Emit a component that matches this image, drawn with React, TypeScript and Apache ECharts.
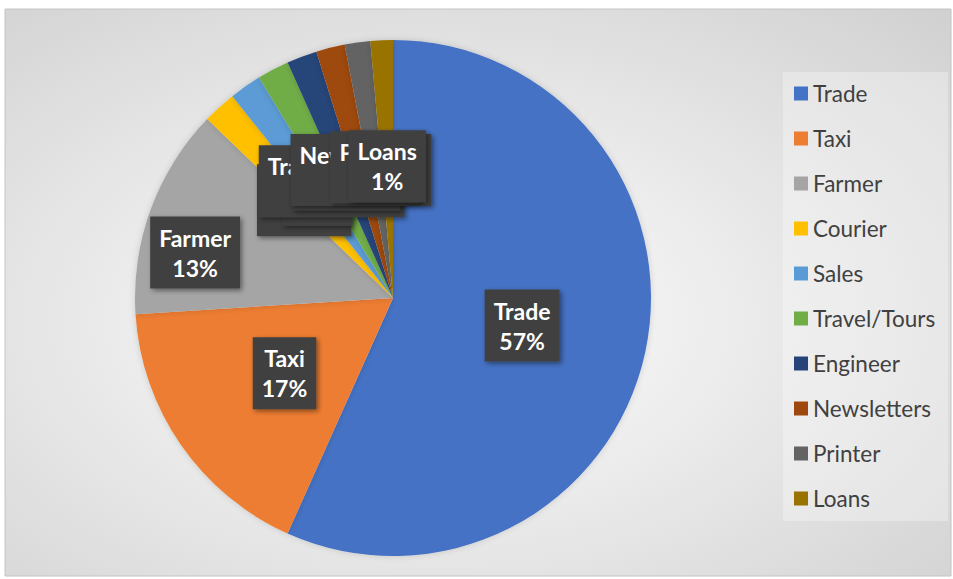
import React, { useEffect, useRef } from "react";
import * as echarts from "echarts";

const categories = [
  "Trade",
  "Taxi",
  "Farmer",
  "Courier",
  "Sales",
  "Travel/Tours",
  "Engineer",
  "Newsletters",
  "Printer",
  "Loans",
];
const shares = [56.7, 17.3, 13.2, 2.1, 2.0, 2.0, 1.9, 1.8, 1.6, 1.4];
const palette = [
  "#4472C4",
  "#ED7D31",
  "#A5A5A5",
  "#FFC000",
  "#5B9BD5",
  "#70AD47",
  "#264478",
  "#9E480E",
  "#636363",
  "#997300",
];

const FONT = "Lato, 'Open Sans', sans-serif";

export default function App() {
  const ref = useRef<HTMLDivElement>(null);

  useEffect(() => {
    if (!ref.current) return;
    const chart = echarts.init(ref.current, undefined, { renderer: "svg" });
    const total = shares.reduce((a, b) => a + b, 0);
    chart.setOption({
      animation: false,
      backgroundColor: "#ffffff",
      color: palette,
      graphic: [
        {
          type: "rect",
          z: -10,
          silent: true,
          shape: { x: 5, y: 9, width: 946, height: 567 },
          style: {
            fill: new echarts.graphic.RadialGradient(0.45, 0.55, 0.95, [
              { offset: 0, color: "#ffffff" },
              { offset: 1, color: "#c6c6c6" },
            ]),
            stroke: "#c4c4c4",
            lineWidth: 1,
          },
        },
        {
          type: "rect",
          z: -5,
          silent: true,
          shape: { x: 783, y: 72, width: 165, height: 449 },
          style: { fill: "rgba(255,255,255,0.3)" },
        },
      ],
      legend: {
        orient: "vertical",
        left: 794,
        top: 82,
        padding: 0,
        icon: "rect",
        itemWidth: 14,
        itemHeight: 14,
        itemGap: 22,
        data: categories,
        textStyle: {
          fontFamily: FONT,
          fontSize: 22.5,
          lineHeight: 20,
          color: "#404040",
        },
      },
      series: [
        {
          type: "pie",
          center: [393, 298],
          radius: [0, 258],
          startAngle: 90,
          clockwise: true,
          avoidLabelOverlap: false,
          minShowLabelAngle: 0,
          // Farmer's label sits further out, clear of the small-slice labels
          labelLayout: (params: any) =>
            params.dataIndex === 2
              ? { hideOverlap: false, dx: -74 }
              : { hideOverlap: false },
          itemStyle: {
            shadowBlur: 6,
            shadowColor: "rgba(0,0,0,0.15)",
          },
          label: {
            show: true,
            position: "inside",
            formatter: (p: any) =>
              `${p.name}\n${Math.round((p.value / total) * 100)}%`,
            color: "#ffffff",
            fontFamily: FONT,
            fontWeight: "bold",
            fontSize: 23,
            lineHeight: 30,
            align: "center",
            backgroundColor: "#404040",
            padding: [6, 9, 6, 9],
            shadowBlur: 5,
            shadowOffsetX: 2,
            shadowOffsetY: 2,
            shadowColor: "rgba(0,0,0,0.45)",
          },
          labelLine: { show: false },
          emphasis: { disabled: true },
          data: categories.map((name, i) => ({ name, value: shares[i] })),
        },
      ],
    });
    return () => chart.dispose();
  }, []);

  return (
    <div
      ref={ref}
      style={{ position: "fixed", left: 0, top: 0, width: 953, height: 579 }}
    />
  );
}
